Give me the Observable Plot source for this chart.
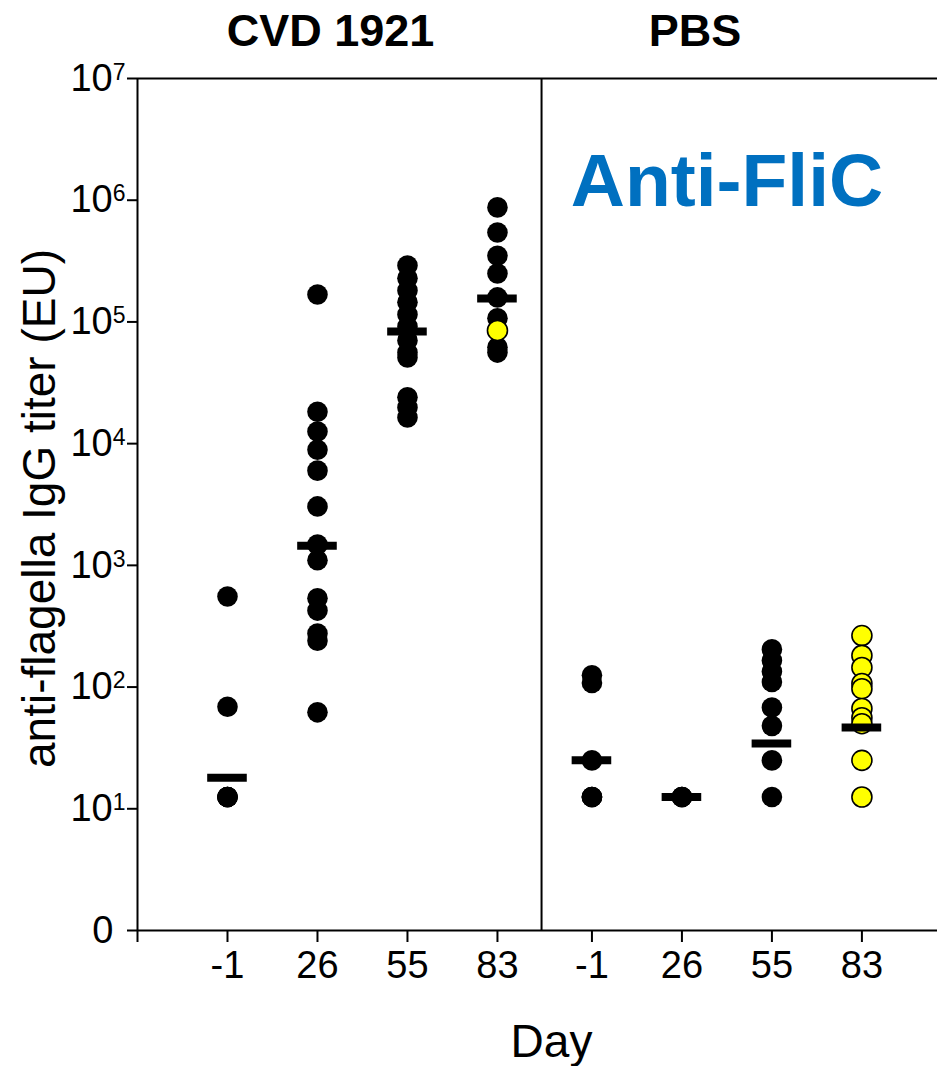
<!DOCTYPE html>
<html>
<head>
<meta charset="utf-8">
<script src="https://cdn.jsdelivr.net/npm/d3@7"></script>
<script src="https://cdn.jsdelivr.net/npm/@observablehq/plot@0.6"></script>
<style>
  body { margin: 0; background: #fff; }
  #chart svg { overflow: visible; }
</style>
</head>
<body>
<div id="chart"></div>
<script>
// ---- data ----
const groups = ["CVD 1921", "PBS"];
const days = ["-1", "26", "55", "83"];
const yTicks = [1, 10, 100, 1e3, 1e4, 1e5, 1e6, 1e7];
const panelTitle = "Anti-FliC";
const xLabel = "Day";
const yLabel = "anti-flagella IgG titer (EU)";

// CVD 1921 group (black points)
const cvdDayM1 = [555, 69, 12.5, 12.5, 12.5, 12.5];
const cvdDay26 = [168000, 18300, 12600, 8900, 6000, 3050, 1480, 1100, 537, 425, 275, 240, 62];
const cvdDay55 = [291000, 228000, 181000, 145000, 115000, 91800, 70500, 56100, 51100, 24000, 19800, 16400];
const cvdDay83 = [873000, 543000, 350000, 250000, 159000, 107000, 62000, 56000];
const cvdDay83Yellow = [85100];
const cvdCentral = [18, 1450, 83600, 156000];

// PBS group
const pbsDayM1 = [125, 108, 25, 12.5, 12.5, 12.5];
const pbsDay26 = [12.5, 12.5, 12.5];
const pbsDay55 = [204, 165, 134, 110, 68, 48, 25, 12.5];
const pbsDay83Yellow = [265, 182, 145, 107, 97, 66.7, 56, 50, 25, 12.5];
const pbsCentral = [25, 12.5, 34.4, 46.6];

// ---- layout helpers ----
const groupGap = 0.05;
const xOf = (g, d) => 1 + g * (days.length + groupGap) + d;
const dividerPos = 4.49;

const blackSets = [[cvdDayM1, cvdDay26, cvdDay55, cvdDay83], [pbsDayM1, pbsDay26, pbsDay55, []]];
const yellowSets = [[[], [], [], cvdDay83Yellow], [[], [], [], pbsDay83Yellow]];
const centralSets = [cvdCentral, pbsCentral];

const blackPts = [], yellowPts = [], centrals = [];
groups.forEach((g, gi) => {
  days.forEach((d, di) => {
    blackSets[gi][di].forEach(v => blackPts.push({x: xOf(gi, di), v}));
    yellowSets[gi][di].forEach(v => yellowPts.push({x: xOf(gi, di), v}));
    centrals.push({x: xOf(gi, di), v: centralSets[gi][di]});
  });
});

const xTickPos = [0];
const xTickLab = new Map([[0, ""]]);
groups.forEach((g, gi) => days.forEach((d, di) => { xTickPos.push(xOf(gi, di)); xTickLab.set(xOf(gi, di), d); }));

const font = "'Liberation Sans', Arial, Helvetica, sans-serif";

const chart = Plot.plot({
  width: 937,
  height: 1066,
  marginLeft: 137,
  marginRight: 0,
  marginTop: 78,
  marginBottom: 136,
  style: {fontFamily: font, color: "black", background: "white", overflow: "visible"},
  x: {type: "linear", domain: [0, 8.89]},
  y: {type: "log", domain: [1, 1e7]},
  marks: [
    Plot.ruleY([1], {stroke: "black", strokeWidth: 2}),
    Plot.ruleY([1e7], {stroke: "black", strokeWidth: 2}),
    Plot.ruleX([0], {stroke: "black", strokeWidth: 2}),
    Plot.ruleX([dividerPos], {stroke: "black", strokeWidth: 2}),
    Plot.axisY(yTicks, {
      tickSize: 10, tickPadding: 2, fontSize: 38, strokeWidth: 2, label: null,
      tickFormat: v => v === 1 ? "0" : "10^" + Math.round(Math.log10(v))
    }),
    Plot.axisX(xTickPos, {
      tickSize: 12, tickPadding: 9, fontSize: 38, strokeWidth: 2, label: null,
      tickFormat: v => xTickLab.get(v) ?? ""
    }),
    Plot.dot(blackPts, {x: "x", y: "v", r: 10.3, fill: "black", stroke: "none"}),
    Plot.dot(yellowPts, {x: "x", y: "v", r: 10, fill: "#FFFF00", stroke: "black", strokeWidth: 1.6}),
    Plot.ruleY(centrals, {y: "v", x1: d => d.x - 0.22, x2: d => d.x + 0.22, stroke: "black", strokeWidth: 8}),
    Plot.text(groups, {
      x: (d, i) => xOf(i, 1.5), text: d => d, frameAnchor: "top", lineAnchor: "bottom",
      dy: -33, dx: -32, fontSize: 45, fontWeight: "bold", fill: "black"
    }),
    Plot.text([panelTitle], {
      x: () => xOf(1, 1.5), text: d => d, frameAnchor: "top", lineAnchor: "bottom",
      dy: 127, fontSize: 75, fontWeight: "bold", fill: "#0070C0"
    }),
    Plot.text([xLabel], {
      text: d => d, frameAnchor: "bottom", lineAnchor: "bottom", textAnchor: "middle", dy: 126, dx: 14,
      fontSize: 46, fill: "black"
    }),
    Plot.text([yLabel], {
      text: d => d, frameAnchor: "left", rotate: -90, lineAnchor: "middle", textAnchor: "middle",
      dx: -97, dy: 4, fontSize: 46, fill: "black"
    })
  ]
});

document.getElementById("chart").appendChild(chart);

// superscript exponents on the y tick labels
d3.select(chart).selectAll('[aria-label="y-axis tick label"] text').each(function() {
  const t = d3.select(this);
  const s = t.text();
  if (s.startsWith("10^")) {
    const e = s.slice(3);
    t.text("");
    t.append("tspan").text("10");
    t.append("tspan").attr("dy", -11).attr("font-size", 23).text(e);
  } else if (s === "0") {
    t.attr("dx", -12);
  }
});
</script>
</body>
</html>
